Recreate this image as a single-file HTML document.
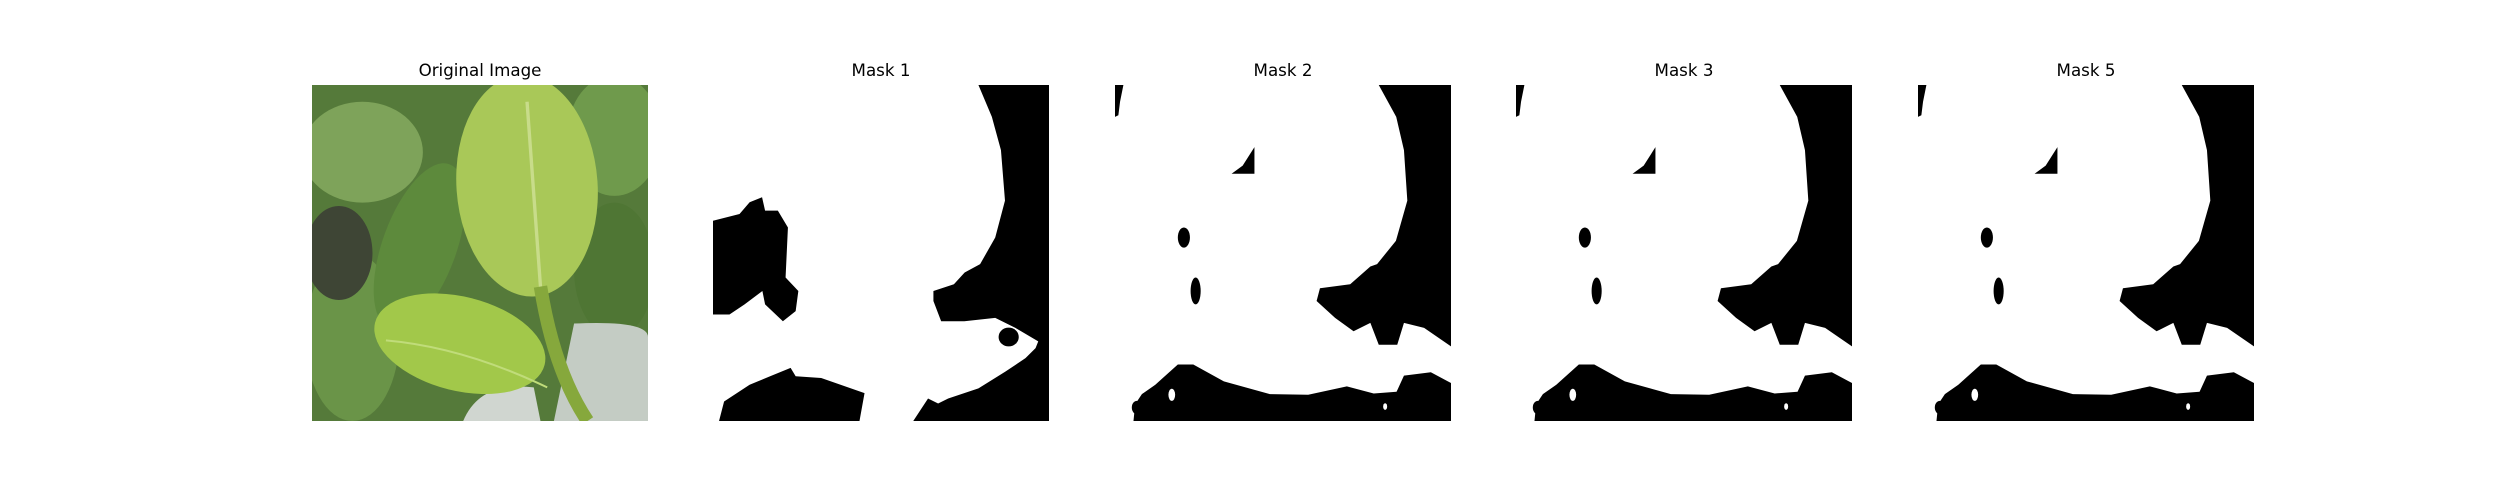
<!DOCTYPE html>
<html><head><meta charset="utf-8"><style>
html,body{margin:0;padding:0;background:#fff;width:2500px;height:500px;overflow:hidden}
text{font-family:"DejaVu Sans","Liberation Sans",sans-serif;font-size:16.7px;fill:#000}
</style></head><body>
<svg width="2500" height="500" viewBox="0 0 2500 500" xmlns="http://www.w3.org/2000/svg">
<defs>
<clipPath id="pc"><rect x="0" y="0" width="100" height="100"/></clipPath>
<g id="maskB">
  <rect x="0" y="0" width="100" height="100" fill="#fff"/>
  <path d="M78.5,0 L83.7,9.5 L86,19.4 L87,34.4 L83.6,46.4 L78,53.3 L76,54 L70,59.3 L61,60.5 L60,64.3 L65.5,69.3 L71,73.3 L76,70.8 L78.5,77.3 L84,77.3 L86,70.8 L92,72.3 L100,77.8 L100,0 Z" fill="#000"/>
  <path d="M0,0 L2.5,0 L1.5,5 L1,9 L0,9.5 Z" fill="#000"/>
  <path d="M41.5,18.5 L41.5,26.4 L34.7,26.4 L38,24 Z" fill="#000"/>
  <ellipse cx="20.5" cy="45.4" rx="1.8" ry="3" fill="#000"/>
  <ellipse cx="24" cy="61.3" rx="1.5" ry="4" fill="#000"/>
  <path d="M5.5,100 L6,95 L8,92 L12,89.2 L18.7,83.2 L23.3,83.2 L32.4,88.2 L46.1,92 L57.5,92.2 L69,89.7 L77,91.8 L83.8,91.3 L86,86.5 L94,85.5 L100,88.7 L100,100 Z" fill="#000"/>
  <ellipse cx="6.5" cy="96" rx="1.5" ry="2" fill="#000"/>
  <ellipse cx="16.9" cy="92.2" rx="1" ry="1.8" fill="#fff"/>
  <ellipse cx="80.4" cy="95.7" rx="0.6" ry="1" fill="#fff"/>
</g>
</defs>

<g>
<text x="480" y="76" text-anchor="middle">Original Image</text>
<g transform="translate(312,85) scale(3.36)" clip-path="url(#pc)">
  <rect width="100" height="100" fill="#557a3a"/>
  <ellipse cx="15" cy="20" rx="18" ry="15" fill="#7ea35a"/>
  <ellipse cx="90" cy="15" rx="14" ry="18" fill="#6f9a4c"/>
  <ellipse cx="12" cy="75" rx="14" ry="25" fill="#6a9448"/>
  <ellipse cx="90" cy="55" rx="12" ry="20" fill="#4f7634"/>
  <ellipse cx="8" cy="50" rx="10" ry="14" fill="#3e4535"/>
  <ellipse cx="32" cy="48" rx="11" ry="26" fill="#5d8a3c" transform="rotate(20 32 48)"/>
  <ellipse cx="64" cy="30" rx="21" ry="33" fill="#a9c858" transform="rotate(-4 64 30)"/>
  <path d="M64,5 L68,60 L80,100" stroke="#c8dc8a" stroke-width="1" fill="none"/>
  <path d="M78,71 Q100,70 100,75 L100,100 L72,100 Z" fill="#c4ccc4"/>
  <path d="M45,100 Q50,88 66,90 L68,100 Z" fill="#d0d6d0"/>
  <path d="M68,60 Q72,85 82,100" stroke="#86a83c" stroke-width="4" fill="none"/>
  <ellipse cx="44" cy="77" rx="26" ry="14" fill="#a2c84a" transform="rotate(14 44 77)"/>
  <path d="M22,76 Q45,78 70,90" stroke="#c0dc7a" stroke-width="0.6" fill="none"/>
</g>
</g>

<g>
<text x="881" y="76" text-anchor="middle">Mask 1</text>
<g transform="translate(713,85) scale(3.36)" clip-path="url(#pc)">
  <rect width="100" height="100" fill="#fff"/>
  <path d="M79,0 L83,9.5 L85.7,19.4 L86.9,34.4 L84,45.4 L79.5,53.3 L74.9,55.8 L71.7,59.3 L65.6,61.3 L65.6,64.3 L67.9,70.3 L74.8,70.3 L84,69.3 L90,72.3 L96.8,76.3 L96,78.3 L93,81.3 L87,85.3 L79,90.3 L70,93.3 L67,94.8 L64,93.3 L59.6,100 L100,100 L100,0 Z" fill="#000"/>
  <ellipse cx="88" cy="75" rx="3" ry="2.8" fill="#000"/>
  <path d="M0,40.4 L7.9,38.4 L10.9,34.9 L14.6,33.4 L15.5,37.4 L19.3,37.4 L22.3,42.4 L21.6,57.3 L25.4,61.3 L24.6,67.3 L20.8,70.3 L15.5,65.3 L14.7,61.3 L9.4,65.3 L4.9,68.3 L0,68.3 Z" fill="#000"/>
  <path d="M1.8,100 L3.3,94.2 L10.9,89.2 L17,86.7 L23.1,84.2 L24.6,86.7 L32.2,87.2 L45.1,91.7 L43.6,100 Z" fill="#000"/>
</g>
</g>

<g>
<text x="1283" y="76" text-anchor="middle">Mask 2</text>
<g transform="translate(1115,85) scale(3.36)" clip-path="url(#pc)"><use href="#maskB"/></g>
</g>

<g>
<text x="1684" y="76" text-anchor="middle">Mask 3</text>
<g transform="translate(1516,85) scale(3.36)" clip-path="url(#pc)"><use href="#maskB"/></g>
</g>

<g>
<text x="2086" y="76" text-anchor="middle">Mask 5</text>
<g transform="translate(1918,85) scale(3.36)" clip-path="url(#pc)"><use href="#maskB"/></g>
</g>
</svg>
</body></html>
